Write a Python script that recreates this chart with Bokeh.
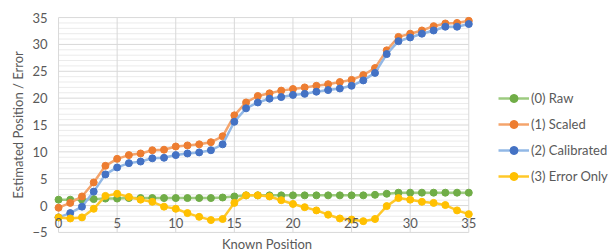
from bokeh.plotting import figure
from bokeh.models import (Legend, LegendItem, LinearAxis, FixedTicker, Range1d)
from bokeh.embed import file_html
from bokeh.resources import INLINE

positions = list(range(36))
raw = [1.1, 1.1, 1.1, 1.2, 1.3, 1.3, 1.4, 1.4, 1.4, 1.4, 1.4, 1.4, 1.4, 1.4, 1.5, 1.7,
       1.9, 1.9, 1.9, 1.9, 1.9, 1.9, 1.9, 1.9, 1.9, 1.9, 1.9, 2.0, 2.2, 2.4, 2.4, 2.4,
       2.4, 2.4, 2.4, 2.4]
scaled = [-0.4, 0.5, 1.7, 4.3, 7.4, 8.7, 9.4, 9.7, 10.3, 10.4, 11.0, 11.2, 11.4, 11.8,
          12.9, 16.8, 19.2, 20.4, 20.9, 21.4, 21.7, 22.0, 22.3, 22.6, 23.0, 23.4, 24.3,
          25.6, 28.9, 31.4, 32.0, 32.6, 33.4, 33.9, 34.0, 34.4]
calibrated = [-2.2, -1.4, -0.2, 2.6, 5.8, 7.1, 7.9, 8.2, 8.8, 8.9, 9.4, 9.7, 9.9, 10.3,
              11.4, 15.6, 18.1, 19.2, 19.9, 20.2, 20.6, 20.8, 21.2, 21.5, 21.8, 22.3,
              23.3, 24.7, 28.2, 30.6, 31.3, 32.0, 32.6, 33.3, 33.3, 33.8]
error_only = [-2.2, -2.4, -2.2, -0.6, 1.8, 2.2, 1.6, 1.1, 0.7, -0.2, -0.6, -1.4, -2.1,
              -2.7, -2.5, 0.5, 1.9, 1.9, 1.7, 1.0, 0.3, -0.3, -0.9, -1.7, -2.4, -2.6,
              -2.9, -2.5, -0.1, 1.4, 1.1, 0.7, 0.5, 0.1, -0.9, -1.6]

series_names = ["(0) Raw", "(1) Scaled", "(2) Calibrated", "(3) Error Only"]
series_values = [raw, scaled, calibrated, error_only]
marker_colors = ["#70AD47", "#ED7D31", "#4472C4", "#FFC000"]
line_colors = ["#9DCB80", "#F4A46C", "#92B8E6", "#FFC829"]

# axis extents and grid positions
X_MIN, X_MAX = 0, 35
Y_MIN, Y_MAX = -5, 35
x_major = list(range(0, 36, 5))
y_major = list(range(-5, 36, 5))
y_minor = [v for v in range(-5, 36) if v % 5 != 0]

FONT = "Lato"
TXT = "#595959"
GRID = "#d9d9d9"
GRID_MINOR = "#ebebeb"

p = figure(frame_width=427, frame_height=217,
           x_range=Range1d(X_MIN - 0.43, X_MAX + 1.0),
           y_range=Range1d(Y_MIN - 0.2, Y_MAX + 0.2),
           output_backend="svg", toolbar_location=None,
           min_border_left=53, min_border_right=133, min_border_top=16,
           min_border_bottom=19)
p.outline_line_color = None
p.xgrid.visible = False
p.ygrid.visible = False

# grid lines, restricted to the data area
p.segment(x0=[X_MIN] * len(y_minor), x1=[X_MAX] * len(y_minor), y0=y_minor, y1=y_minor,
          line_color=GRID_MINOR, line_width=1)
p.segment(x0=[X_MIN] * len(y_major), x1=[X_MAX] * len(y_major), y0=y_major, y1=y_major,
          line_color=GRID, line_width=1)
p.segment(x0=x_major, x1=x_major, y0=[Y_MIN] * len(x_major), y1=[Y_MAX] * len(x_major),
          line_color=GRID, line_width=1)

# x axis labels drawn along y = 0
xa = p.xaxis[0]
xa.ticker = FixedTicker(ticks=x_major)
xa.fixed_location = 0
xa.axis_line_color = None
xa.major_tick_line_color = None
xa.minor_tick_line_color = None
xa.major_tick_out = 0
xa.major_tick_in = 0
xa.major_label_standoff = 12
xa.major_label_text_font = FONT
xa.major_label_text_font_size = "13px"
xa.major_label_text_color = TXT

# separate bottom axis carrying the title
title_axis = LinearAxis(ticker=FixedTicker(ticks=[]), axis_label="Known Position",
                        axis_line_color=None, major_tick_line_color=None,
                        minor_tick_line_color=None, major_tick_out=0, major_tick_in=0,
                        axis_label_standoff=2, axis_label_text_font=FONT,
                        axis_label_text_font_size="13px",
                        axis_label_text_font_style="normal",
                        axis_label_text_color=TXT)
p.add_layout(title_axis, "below")

ya = p.yaxis[0]
ya.ticker = FixedTicker(ticks=y_major)
ya.axis_line_color = None
ya.major_tick_line_color = None
ya.minor_tick_line_color = None
ya.major_tick_out = 0
ya.major_tick_in = 0
ya.major_label_standoff = 6
ya.major_label_text_font = FONT
ya.major_label_text_font_size = "13px"
ya.major_label_text_color = TXT
ya.axis_label = "Estimated Position / Error"
ya.axis_label_text_font = FONT
ya.axis_label_text_font_size = "13px"
ya.axis_label_text_font_style = "normal"
ya.axis_label_text_color = TXT
ya.axis_label_standoff = 3

items = []
for name, vals, mc, lc in zip(series_names, series_values, marker_colors, line_colors):
    r1 = p.line(positions, vals, line_color=lc, line_width=2.5)
    r2 = p.scatter(positions, vals, size=7, fill_color=mc, line_color=mc)
    items.append(LegendItem(label=name, renderers=[r1, r2]))

legend = Legend(items=items, location=(18, 47), border_line_color=None,
                background_fill_alpha=0, padding=0, margin=0, spacing=6,
                glyph_width=31, glyph_height=20, label_height=20, label_standoff=2,
                label_text_font=FONT, label_text_font_size="13px",
                label_text_color=TXT)
p.add_layout(legend, "right")

open("out.html", "w").write(file_html(p, INLINE))
